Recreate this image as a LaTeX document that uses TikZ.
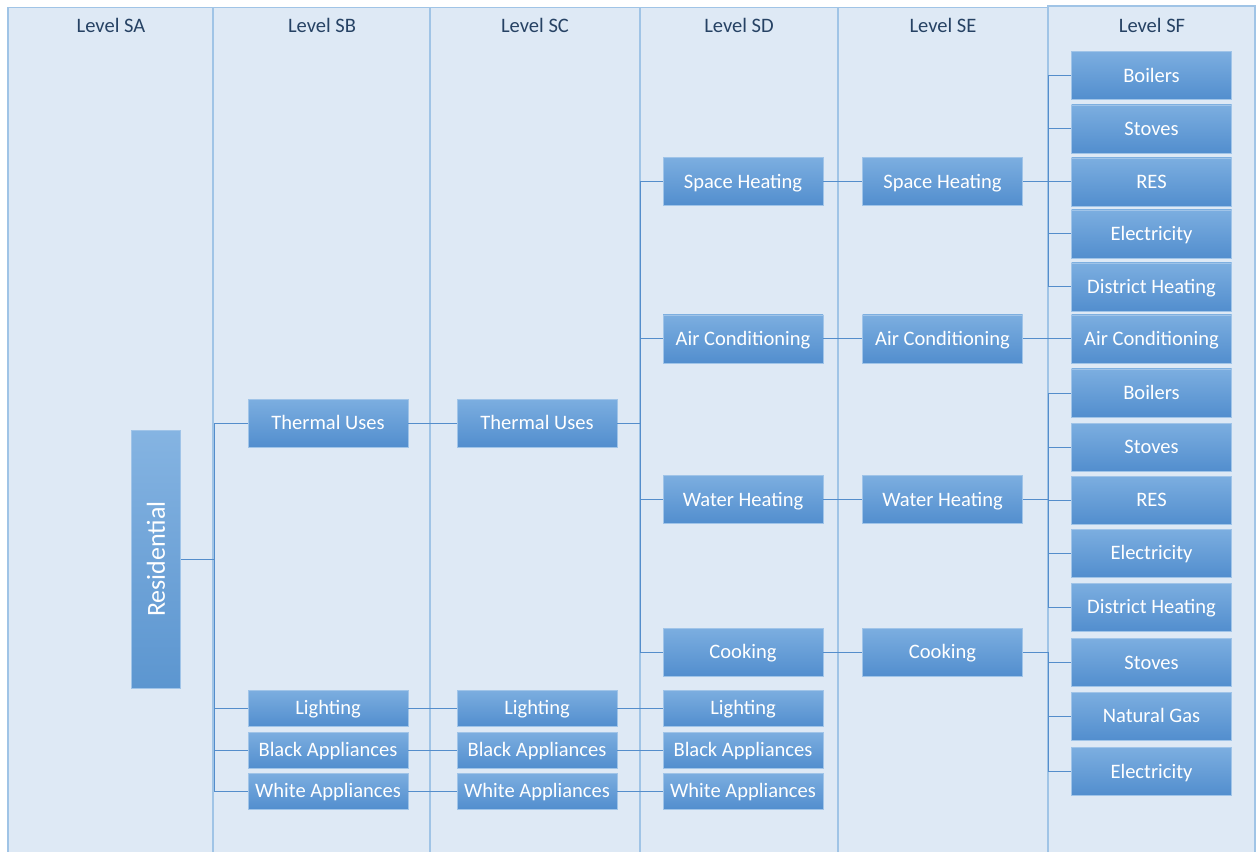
\documentclass[tikz,border=0pt]{standalone}
\usepackage{fontspec}
\setmainfont{Carlito}
\definecolor{panelfill}{RGB}{222,233,245}
\definecolor{panelline}{RGB}{160,196,230}
\definecolor{titlecol}{RGB}{38,66,100}
\definecolor{boxtop}{RGB}{124,174,224}
\definecolor{boxmid}{RGB}{96,160,222}
\definecolor{boxbot}{RGB}{82,142,206}
\definecolor{boxline}{RGB}{160,196,232}
\definecolor{restop}{RGB}{133,180,226}
\definecolor{resbot}{RGB}{92,150,208}
\definecolor{linkcol}{RGB}{84,141,203}
\begin{document}
\begin{tikzpicture}[x=0.75pt,y=-0.75pt,
  panel/.style={fill=panelfill,draw=panelline,line width=0.8pt},
  title/.style={text=titlecol,font=\fontsize{15.4}{18}\selectfont,anchor=center,inner sep=0pt},
  box/.style={draw=boxline,line width=0.6pt,top color=boxtop,middle color=boxmid,bottom color=boxbot,
    text=white,font=\fontsize{15.4}{18}\selectfont,minimum width=120pt,minimum height=36pt,inner sep=0pt,
    text height=9.9pt,text depth=0pt},
  sbox/.style={box,minimum height=27pt},
  resbox/.style={box,top color=restop,bottom color=resbot,middle color={rgb,255:red,112;green,164;blue,216},
    minimum width=36.75pt,minimum height=193.5pt,font=\fontsize{19.5}{22}\selectfont,text height=,text depth=},
  link/.style={draw=linkcol,line width=0.75pt}]
\useasboundingbox (0,0) rectangle (1257,852);
% panels
\draw[panel] (8,7.5) rectangle (213,860);
\draw[panel] (213,7.5) rectangle (430,860);
\draw[panel] (430,7.5) rectangle (640,860);
\draw[panel] (640,7.5) rectangle (838,860);
\draw[panel] (838,7.5) rectangle (1048,860);
\draw[panel] (1048,6) rectangle (1255,860);
% titles
\node[title] (tA) at (111,25) {Level SA};
\node[title] (tB) at (322,25) {Level SB};
\node[title] (tC) at (535,25) {Level SC};
\node[title] (tD) at (739,25) {Level SD};
\node[title] (tE) at (943,25) {Level SE};
\node[title] (tF) at (1152,25) {Level SF};
% level SA
\node[resbox] (res) at (156,559) {\rotatebox{90}{Residential}};
% level SB
\node[box] (tuB) at (328,423) {Thermal Uses};
\node[sbox] (liB) at (328,708) {Lighting};
\node[sbox] (baB) at (328,750) {Black Appliances};
\node[sbox] (waB) at (328,791) {White Appliances};
% level SC
\node[box] (tuC) at (537,423) {Thermal Uses};
\node[sbox] (liC) at (537,708) {Lighting};
\node[sbox] (baC) at (537,750) {Black Appliances};
\node[sbox] (waC) at (537,791) {White Appliances};
% level SD
\node[box] (shD) at (743,181.5) {Space Heating};
\node[box] (acD) at (743,339) {Air Conditioning};
\node[box] (whD) at (743,499.5) {Water Heating};
\node[box] (coD) at (743,652) {Cooking};
\node[sbox] (liD) at (743,708) {Lighting};
\node[sbox] (baD) at (743,750) {Black Appliances};
\node[sbox] (waD) at (743,791) {White Appliances};
% level SE
\node[box] (shE) at (942.5,181.5) {Space Heating};
\node[box] (acE) at (942.5,339) {Air Conditioning};
\node[box] (whE) at (942.5,499.5) {Water Heating};
\node[box] (coE) at (942.5,652) {Cooking};
% level SF
\node[box] (f1) at (1151.5,75.5) {Boilers};
\node[box] (f2) at (1151.5,129) {Stoves};
\node[box] (f3) at (1151.5,182) {RES};
\node[box] (f4) at (1151.5,234) {Electricity};
\node[box] (f5) at (1151.5,287) {District Heating};
\node[box] (f6) at (1151.5,339) {Air Conditioning};
\node[box] (f7) at (1151.5,393) {Boilers};
\node[box] (f8) at (1151.5,447) {Stoves};
\node[box] (f9) at (1151.5,500) {RES};
\node[box] (f10) at (1151.5,553) {Electricity};
\node[box] (f11) at (1151.5,607) {District Heating};
\node[box] (f12) at (1151.5,662.5) {Stoves};
\node[box] (f13) at (1151.5,716) {Natural Gas};
\node[box] (f14) at (1151.5,771.5) {Electricity};
% bus positions
\coordinate (bB) at (214,0);
\coordinate (bD) at (640,0);
\coordinate (bF) at (1048,0);
% connectors
\draw[link] (res.east) -- (res.east -| bB);
\foreach \c in {tuB,liB,baB,waB} \draw[link] (res.east -| bB) |- (\c.west);
\draw[link] (tuB.east) -- (tuC.west);
\draw[link] (liB.east) -- (liC.west);
\draw[link] (baB.east) -- (baC.west);
\draw[link] (waB.east) -- (waC.west);
\draw[link] (tuC.east) -- (tuC.east -| bD);
\foreach \c in {shD,acD,whD,coD} \draw[link] (tuC.east -| bD) |- (\c.west);
\draw[link] (liC.east) -- (liD.west);
\draw[link] (baC.east) -- (baD.west);
\draw[link] (waC.east) -- (waD.west);
\draw[link] (shD.east) -- (shE.west);
\draw[link] (acD.east) -- (acE.west);
\draw[link] (whD.east) -- (whE.west);
\draw[link] (coD.east) -- (coE.west);
\draw[link] (shE.east) -- (shE.east -| bF);
\foreach \c in {f1,f2,f3,f4,f5} \draw[link] (shE.east -| bF) |- (\c.west);
\draw[link] (acE.east) -- (f6.west);
\draw[link] (whE.east) -- (whE.east -| bF);
\foreach \c in {f7,f8,f9,f10,f11} \draw[link] (whE.east -| bF) |- (\c.west);
\draw[link] (coE.east) -- (coE.east -| bF);
\foreach \c in {f12,f13,f14} \draw[link] (coE.east -| bF) |- (\c.west);
\end{tikzpicture}
\end{document}
